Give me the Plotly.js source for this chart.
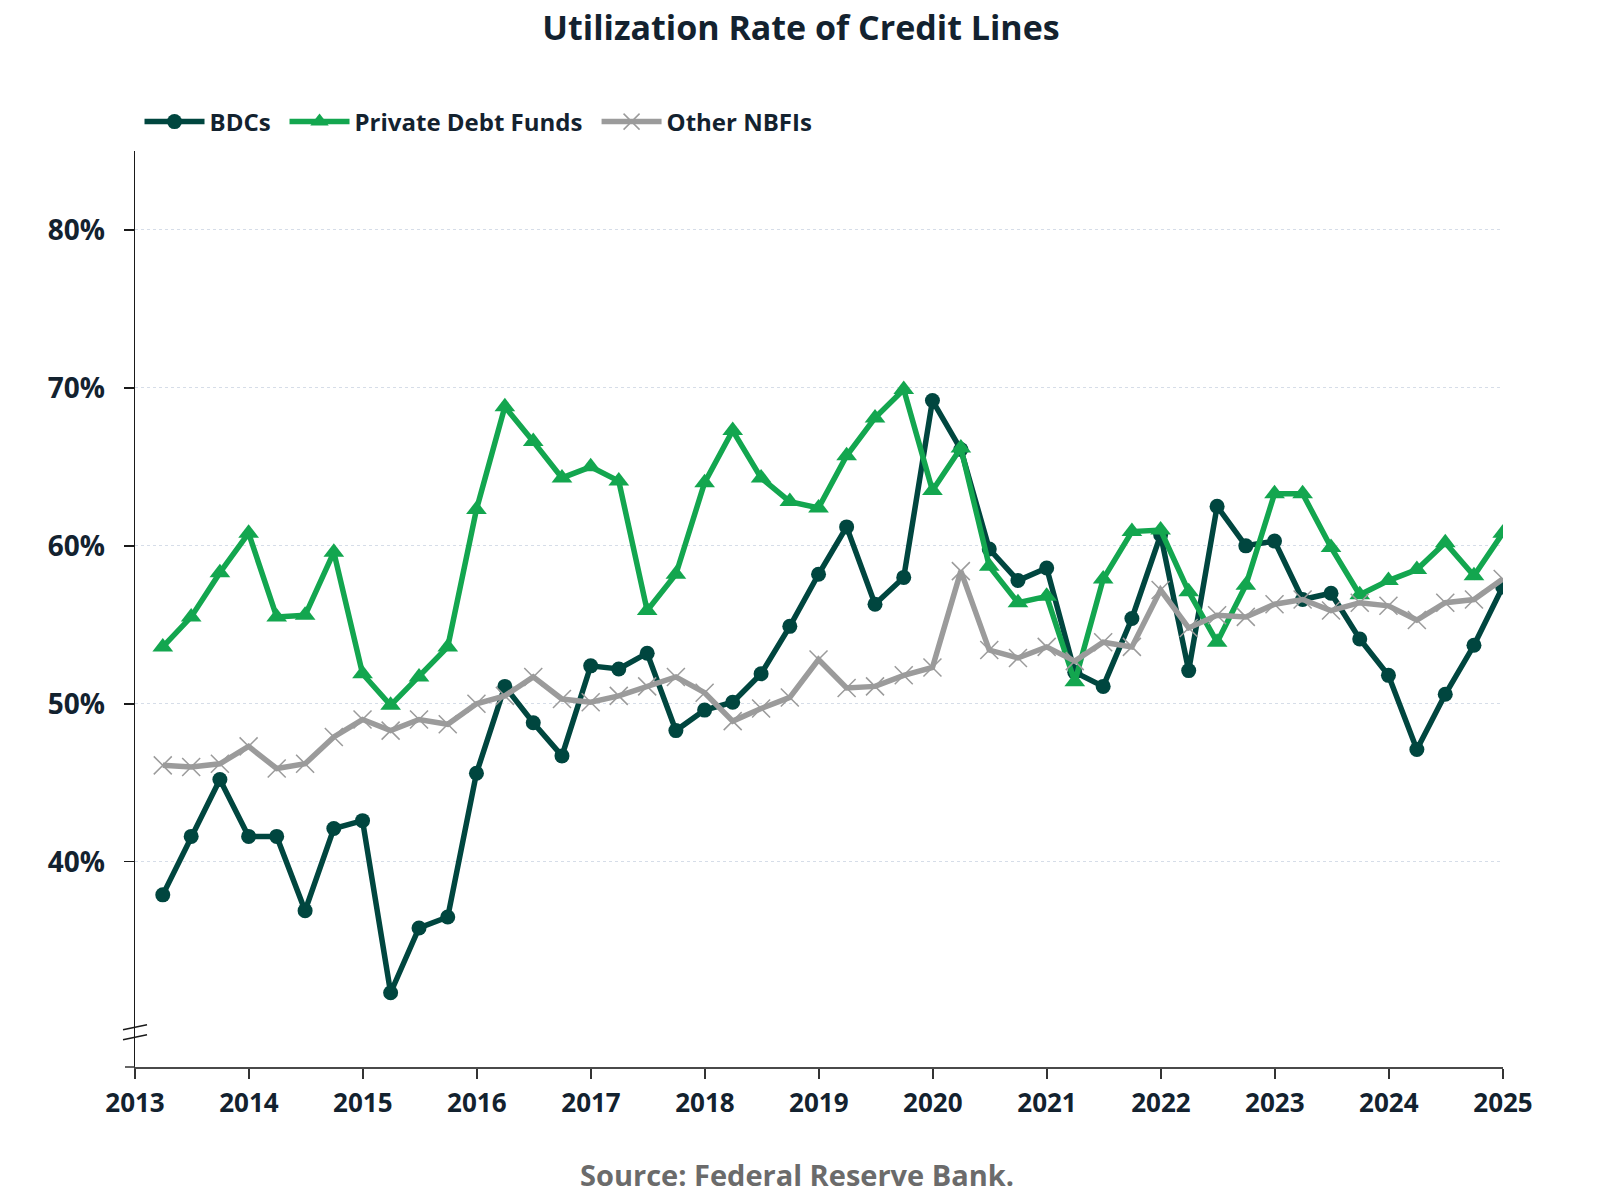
<!DOCTYPE html>
<html>
<head>
<meta charset="utf-8">
<script src="https://cdn.plot.ly/plotly-3.0.1.min.js"></script>
<style>
  html, body { margin: 0; padding: 0; background: #ffffff; }
  #chart { width: 1600px; height: 1200px; }
</style>
</head>
<body>
<div id="chart"></div>
<script>
// Quarter-end dates, Q1 2013 .. Q4 2024
const quarters = [
  "2013-03-31","2013-06-30","2013-09-30","2013-12-31",
  "2014-03-31","2014-06-30","2014-09-30","2014-12-31",
  "2015-03-31","2015-06-30","2015-09-30","2015-12-31",
  "2016-03-31","2016-06-30","2016-09-30","2016-12-31",
  "2017-03-31","2017-06-30","2017-09-30","2017-12-31",
  "2018-03-31","2018-06-30","2018-09-30","2018-12-31",
  "2019-03-31","2019-06-30","2019-09-30","2019-12-31",
  "2020-03-31","2020-06-30","2020-09-30","2020-12-31",
  "2021-03-31","2021-06-30","2021-09-30","2021-12-31",
  "2022-03-31","2022-06-30","2022-09-30","2022-12-31",
  "2023-03-31","2023-06-30","2023-09-30","2023-12-31",
  "2024-03-31","2024-06-30","2024-09-30","2024-12-31"
];

// Utilization rate (%)
const bdcs = [
  37.9, 41.6, 45.2, 41.6,
  41.6, 36.9, 42.1, 42.6,
  31.7, 35.8, 36.5, 45.6,
  51.1, 48.8, 46.7, 52.4,
  52.2, 53.2, 48.3, 49.6,
  50.1, 51.9, 54.9, 58.2,
  61.2, 56.3, 58.0, 69.2,
  66.1, 59.8, 57.8, 58.6,
  52.0, 51.1, 55.4, 60.7,
  52.1, 62.5, 60.0, 60.3,
  56.6, 57.0, 54.1, 51.8,
  47.1, 50.6, 53.7, 57.4
];

const privateDebtFunds = [
  53.6, 55.5, 58.3, 60.8,
  55.5, 55.6, 59.6, 51.9,
  49.9, 51.7, 53.6, 62.3,
  68.8, 66.6, 64.3, 65.0,
  64.1, 55.9, 58.2, 64.0,
  67.3, 64.3, 62.8, 62.4,
  65.7, 68.1, 69.9, 63.5,
  66.2, 58.7, 56.4, 56.8,
  51.4, 57.9, 60.9, 61.0,
  57.1, 53.9, 57.5, 63.3,
  63.3, 59.9, 56.9, 57.8,
  58.5, 60.2, 58.1, 60.8
];

const otherNBFIs = [
  46.1, 46.0, 46.2, 47.3,
  45.9, 46.2, 47.9, 49.0,
  48.3, 49.0, 48.7, 50.0,
  50.5, 51.7, 50.3, 50.1,
  50.5, 51.1, 51.7, 50.7,
  48.9, 49.7, 50.4, 52.8,
  51.0, 51.1, 51.8, 52.3,
  58.4, 53.4, 52.9, 53.6,
  52.7, 53.9, 53.6, 57.2,
  54.8, 55.6, 55.5, 56.3,
  56.6, 55.9, 56.4, 56.2,
  55.3, 56.4, 56.6, 57.9
];

const seriesNames = ["BDCs", "Private Debt Funds", "Other NBFIs"];
const yTickVals = [40, 50, 60, 70, 80];
const yTickText = ["40%", "50%", "60%", "70%", "80%"];
const xTickVals = ["2013-01-01","2014-01-01","2015-01-01","2016-01-01","2017-01-01","2018-01-01","2019-01-01","2020-01-01","2021-01-01","2022-01-01","2023-01-01","2024-01-01","2025-01-01"];
const xTickText = ["2013","2014","2015","2016","2017","2018","2019","2020","2021","2022","2023","2024","2025"];

const FONT = "'Open Sans', 'Noto Sans', sans-serif";
const TXT = "#13222f";

const traces = [
  {
    x: quarters, y: bdcs, name: seriesNames[0], type: "scatter", mode: "lines+markers",
    line: { color: "#00463f", width: 5.5 },
    marker: { symbol: "circle", size: 15, color: "#00463f" },
    legend: "legend",
    hoverinfo: "skip"
  },
  {
    x: quarters, y: privateDebtFunds, name: seriesNames[1], type: "scatter", mode: "lines+markers",
    line: { color: "#13a64f", width: 5.5 },
    marker: { symbol: "triangle-up", size: 18, color: "#13a64f" },
    legend: "legend2",
    hoverinfo: "skip"
  },
  {
    x: quarters, y: otherNBFIs, name: seriesNames[2], type: "scatter", mode: "lines+markers",
    line: { color: "#9b9b9b", width: 5.5 },
    marker: { symbol: "x-thin", size: 18, color: "#9b9b9b", line: { color: "#9b9b9b", width: 1.5 } },
    legend: "legend3",
    hoverinfo: "skip"
  }
];

function legendAt(xp) {
  return {
    orientation: "h",
    x: xp, xanchor: "left",
    y: 1 + 29 / 916, yanchor: "middle",
    font: { family: FONT, size: 24, color: TXT, weight: 700 },
    itemwidth: 60,
    bgcolor: "rgba(0,0,0,0)"
  };
}

const layout = {
  width: 1600, height: 1200,
  paper_bgcolor: "#ffffff", plot_bgcolor: "#ffffff",
  margin: { l: 135, r: 97, t: 151, b: 133 },
  font: { family: FONT, color: TXT },
  title: {
    text: "Utilization Rate of Credit Lines",
    font: { family: FONT, size: 34, color: TXT, weight: 700 },
    x: 801 / 1600, xref: "container", xanchor: "center",
    y: 1 - 28 / 1200, yref: "container", yanchor: "middle"
  },
  showlegend: true,
  legend: legendAt(0.0033),
  legend2: legendAt(0.1093),
  legend3: legendAt(0.3374),
  xaxis: {
    type: "date",
    range: ["2013-01-01", "2025-01-01"],
    tickvals: xTickVals, ticktext: xTickText,
    showgrid: false, zeroline: false,
    showline: true, linecolor: "#4a4a4a", linewidth: 2,
    ticks: "outside", ticklen: 10, tickwidth: 2, tickcolor: "#333333",
    tickfont: { family: FONT, size: 26, color: TXT, weight: 700 },
    ticklabelstandoff: 2
  },
  yaxis: {
    range: [27, 85],
    tickvals: yTickVals, ticktext: yTickText,
    showgrid: true, gridcolor: "#d6dde8", gridwidth: 1, griddash: "dot",
    zeroline: false,
    showline: true, linecolor: "#1a1a1a", linewidth: 1.5,
    ticks: "outside", ticklen: 10, tickwidth: 1.5, tickcolor: "#1a1a1a",
    tickfont: { family: FONT, size: 28, color: TXT, weight: 700 },
    ticklabelstandoff: 13
  },
  shapes: [
    { type: "line", xref: "paper", xsizemode: "pixel", xanchor: 0, x0: -12, x1: 12,
      yref: "y", ysizemode: "pixel", yanchor: 29.1, y0: 4, y1: 9,
      line: { color: "#1a1a1a", width: 1.5 } },
    { type: "line", xref: "paper", xsizemode: "pixel", xanchor: 0, x0: -12, x1: 12,
      yref: "y", ysizemode: "pixel", yanchor: 29.1, y0: -6, y1: -1,
      line: { color: "#1a1a1a", width: 1.5 } },
    { type: "line", xref: "paper", xsizemode: "pixel", xanchor: 0, x0: -10, x1: 0,
      yref: "paper", y0: 0, y1: 0,
      line: { color: "#333333", width: 1.5 } }
  ],
  annotations: [
    {
      text: "Source: Federal Reserve Bank.",
      xref: "paper", x: (797 - 135) / 1368, xanchor: "center",
      yref: "paper", y: -(1174 - 1067) / 916, yanchor: "middle",
      showarrow: false,
      font: { family: FONT, size: 29, color: "#6b6b6b", weight: 700 }
    }
  ]
};

Plotly.newPlot("chart", traces, layout, { displayModeBar: false, staticPlot: true });
</script>
</body>
</html>
